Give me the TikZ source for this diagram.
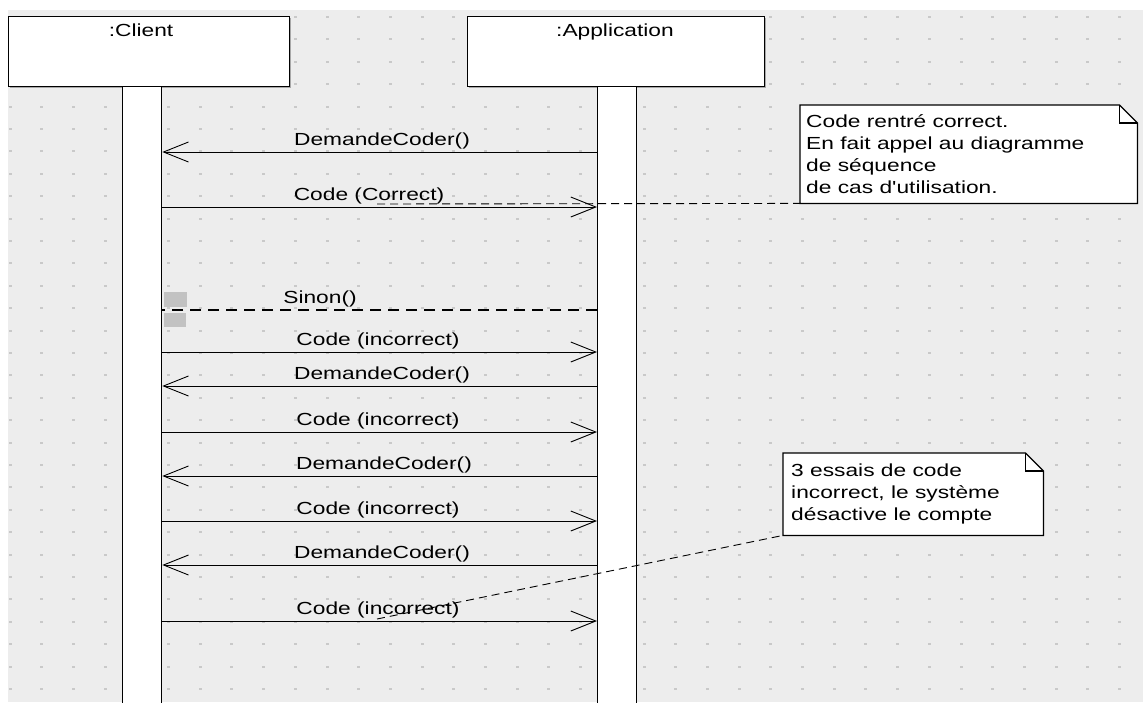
\documentclass[tikz,border=0pt]{standalone}
\usepackage{fontspec}
\setmainfont{Liberation Sans}[FakeStretch=1.3]
\newfontfamily\nomapfont{Liberation Sans}[FakeStretch=1.3, Ligatures=ResetAll]
\usetikzlibrary{arrows.meta,calc}
\definecolor{bg}{HTML}{EDEDED}
\definecolor{dotc}{HTML}{C9C9C9}
\definecolor{selc}{HTML}{C2C2C2}
\definecolor{shad}{HTML}{A8A8A8}
\tikzset{
  objbox/.style={draw, fill=white, line width=1.3pt, inner sep=0pt, anchor=north west},
  lifebar/.style={draw, fill=white, line width=1.3pt, inner sep=0pt, anchor=north west},
  msg/.style={line width=0.9pt},
  tipR/.style={-{Straight Barb[length=25pt,width=20pt,line width=0.9pt]}},
  retdash/.style={line width=1.2pt, dash pattern=on 11pt off 7pt},
  notedash/.style={line width=0.9pt, dash pattern=on 8pt off 5pt},
  lbl/.style={anchor=base, inner sep=0pt},
  notetxt/.style={anchor=base west, inner sep=0pt},
  notebox/.style={inner sep=0pt, anchor=north west},
}
\begin{document}
\begin{tikzpicture}[x=1pt,y=-1pt,font=\fontsize{17.5}{22}\selectfont]
\useasboundingbox (0,0) rectangle (1143,702);
% background with dot grid
\fill[bg] (8,10) rectangle (1143,702);
\foreach \i in {0,...,35}
  \foreach \j in {0,...,30}
    \fill[dotc] ({10+31.7*\i-1.5},{17+22.4*\j-1}) rectangle ++(3,2);

% object boxes
\fill[shad] (10,18) rectangle (291,88);
\fill[shad] (469,18) rectangle (766,88);
\node[objbox, minimum width=281pt, minimum height=70pt] (client) at (8,16) {};
\node[objbox, minimum width=297pt, minimum height=70pt] (app) at (467,16) {};
\node[lbl] (clientlbl) at (141,36) {:Client};
\node[lbl] (applbl) at (615,36) {:Application};

% lifeline bars
\node[lifebar, minimum width=39pt, minimum height=620pt] (cbar) at (122,86) {};
\node[lifebar, minimum width=39pt, minimum height=620pt] (abar) at (597,86) {};

% selection marks
\fill[selc] (164,292) rectangle (187,307);
\fill[selc] (164,313) rectangle (186,327);

% messages
\draw[msg,tipR] (abar.west |- 0,152) -- (cbar.east |- 0,152);
\node[lbl] (m1) at (382,145) {DemandeCoder()};
\draw[msg,tipR] (cbar.east |- 0,207) -- (abar.west |- 0,207);
\node[lbl] (m2) at (369,200) {Code (Correct)};
\draw[retdash] (abar.west |- 0,310) -- (cbar.east |- 0,310);
\node[lbl] (m3) at (320,303) {Sinon()};
\draw[msg,tipR] (cbar.east |- 0,352) -- (abar.west |- 0,352);
\node[lbl] (m4) at (378,345) {Code (incorrect)};
\draw[msg,tipR] (abar.west |- 0,386) -- (cbar.east |- 0,386);
\node[lbl] (m5) at (382,379) {DemandeCoder()};
\draw[msg,tipR] (cbar.east |- 0,432) -- (abar.west |- 0,432);
\node[lbl] (m6) at (378,425) {Code (incorrect)};
\draw[msg,tipR] (abar.west |- 0,476) -- (cbar.east |- 0,476);
\node[lbl] (m7) at (384,469) {DemandeCoder()};
\draw[msg,tipR] (cbar.east |- 0,521) -- (abar.west |- 0,521);
\node[lbl] (m8) at (378,514) {Code (incorrect)};
\draw[msg,tipR] (abar.west |- 0,565) -- (cbar.east |- 0,565);
\node[lbl] (m9) at (382,558) {DemandeCoder()};
\draw[msg,tipR] (cbar.east |- 0,621) -- (abar.west |- 0,621);
\node[lbl] (m10) at (378,614) {Code (incorrect)};

% notes
\node[notebox, minimum width=337pt, minimum height=98pt] (n1) at (800,105) {};
\node[notebox, minimum width=260pt, minimum height=82pt] (n2) at (783,453) {};
\foreach \n in {n1,n2}{
  \fill[shad, shift={(2,2)}]
    (\n.north west) -- ($(\n.north east)+(-18,0)$) -- ($(\n.north east)+(0,18)$)
    -- (\n.south east) -- (\n.south west) -- cycle;
  \filldraw[fill=white, line width=1.2pt]
    (\n.north west) -- ($(\n.north east)+(-18,0)$) -- ($(\n.north east)+(0,18)$)
    -- (\n.south east) -- (\n.south west) -- cycle;
  \draw[line width=1.2pt] ($(\n.north east)+(-18,0)$) -- ($(\n.north east)+(-18,18)$) -- ($(\n.north east)+(0,18)$);
}
\node[notetxt] (n1a) at (806,127) {Code rentré correct.};
\node[notetxt] (n1b) at (806,149) {En fait appel au diagramme};
\node[notetxt] (n1c) at (806,171) {de séquence};
\node[notetxt] (n1d) at (806,193) {de cas d{\nomapfont '}utilisation.};
\node[notetxt] (n2a) at (791,476) {3 essais de code};
\node[notetxt] (n2b) at (791,498) {incorrect, le système};
\node[notetxt] (n2c) at (791,520) {désactive le compte};

% note connectors
\coordinate (c1) at (377,204);
\coordinate (c2) at (377,619);
\draw[notedash] (c1) -- (n1.south west);
\draw[notedash] (c2) -- (n2.south west);
\end{tikzpicture}
\end{document}
